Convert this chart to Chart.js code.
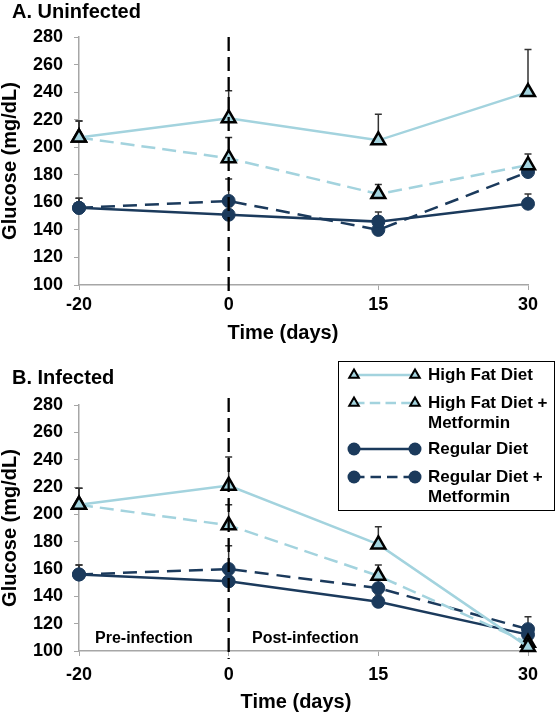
<!DOCTYPE html>
<html><head><meta charset="utf-8">
<script src="https://cdn.jsdelivr.net/npm/chart.js@4.4.1/dist/chart.umd.min.js"></script>
<style>
html,body{margin:0;padding:0;background:#fff;}
#wrap{position:relative;width:558px;height:716px;overflow:hidden;font-family:"Liberation Sans",Arial,sans-serif;}
canvas{position:absolute;left:0;}
#cA{top:0}
#cB{top:352px}
.t{position:absolute;font-weight:bold;color:#000;white-space:nowrap;line-height:1;}
#legendBox{position:absolute;left:338px;top:361px;width:217px;height:150px;border:1.5px solid #000;background:#fff;box-sizing:border-box;}
.lt{position:absolute;left:428px;width:128px;font-weight:bold;font-size:17px;line-height:20px;color:#000;}
#legSvg{position:absolute;left:0;top:0;}
</style></head>
<body><div id="wrap">
<canvas id="cA" width="558" height="352"></canvas>
<canvas id="cB" width="558" height="364"></canvas>
<div id="legendBox"></div>
<svg id="legSvg" width="558" height="716"></svg>
</div>
<script>
// ---- data ----
const categories = ['-20', '0', '15', '30'];
const seriesNames = ['High Fat Diet', 'High Fat Diet + Metformin', 'Regular Diet', 'Regular Diet + Metformin'];
const panelTitles = ['A. Uninfected', 'B. Infected'];
const xAxisTitle = 'Time (days)';
const yAxisTitle = 'Glucose (mg/dL)';
const phaseLabels = ['Pre-infection', 'Post-infection'];
const markerDay = '0';
const yMin = 100, yMax = 280, yStep = 20;

const hfdA      = [207, 221, 205, 240];
const hfdErrA   = [12, 20, 19, 31];
const hfdMetA   = [207, 192, 166, 187];
const hfdMetErrA= [12, 15, 7, 8];
const regA      = [156, 151, 146, 159];
const regErrA   = [7, 6, 7, 7];
const regMetA   = [156, 161, 140, 182];
const regMetErrA= [7, 16, 5, 5];

const hfdB      = [207, 221, 178, 103];
const hfdErrB   = [12, 21, 13, 5];
const hfdMetB   = [207, 192, 155, 106];
const hfdMetErrB= [12, 15, 8, 5];
const regB      = [156, 151, 136, 112];
const regErrB   = [7, 6, 5, 6];
const regMetB   = [156, 160, 146, 116];
const regMetErrB= [7, 17, 6, 9];

// ---- styles ----
const LIGHT = '#a3d3de';
const NAVY = '#1b3a5c';
const styles = [
  {borderColor: LIGHT, borderDash: [], pointStyle: 'triangle', pointRadius: 8, pointBackgroundColor: LIGHT, pointBorderColor: '#000', pointBorderWidth: 2.5},
  {borderColor: LIGHT, borderDash: [14, 7], pointStyle: 'triangle', pointRadius: 8, pointBackgroundColor: LIGHT, pointBorderColor: '#000', pointBorderWidth: 2.5},
  {borderColor: NAVY, borderDash: [], pointStyle: 'circle', pointRadius: 6.5, pointBackgroundColor: NAVY, pointBorderColor: NAVY, pointBorderWidth: 1},
  {borderColor: NAVY, borderDash: [14, 8], pointStyle: 'circle', pointRadius: 6.5, pointBackgroundColor: NAVY, pointBorderColor: NAVY, pointBorderWidth: 1}
];

Chart.defaults.font.family = '"Liberation Sans", Arial, sans-serif';
Chart.defaults.color = '#000';

const errorBars = {
  id: 'errorBars',
  beforeDatasetsDraw(chart) {
    const {ctx, scales: {x, y}} = chart;
    ctx.save();
    ctx.strokeStyle = '#333';
    ctx.lineWidth = 1.5;
    chart.data.datasets.forEach(ds => {
      if (!ds.errors) return;
      ds.data.forEach((v, j) => {
        const e = ds.errors[j];
        if (!e) return;
        const px = x.getPixelForValue(j);
        const y0 = y.getPixelForValue(v), y1 = y.getPixelForValue(v + e);
        ctx.beginPath();
        ctx.moveTo(px, y0); ctx.lineTo(px, y1);
        ctx.moveTo(px - 3.5, y1); ctx.lineTo(px + 3.5, y1);
        ctx.stroke();
      });
    });
    ctx.restore();
  }
};

const dayLine = {
  id: 'dayLine',
  afterDatasetsDraw(chart, args, opts) {
    const {ctx, chartArea, scales: {x}} = chart;
    const px = x.getPixelForValue(categories.indexOf(markerDay));
    ctx.save();
    ctx.strokeStyle = '#000';
    ctx.lineWidth = 2.3;
    ctx.setLineDash([14, 6]);
    ctx.beginPath();
    ctx.moveTo(px, chartArea.top - (opts.above || 0));
    ctx.lineTo(px, chartArea.bottom + 8);
    ctx.stroke();
    ctx.restore();
  }
};

function makeChart(id, series, errs, padTop, padBottom, xHeight, xTickPad, lineAbove) {
  const datasets = series.map((d, i) => Object.assign({
    label: seriesNames[i], data: d, errors: errs[i],
    borderWidth: 2.5, tension: 0, fill: false, clip: false, order: i + 1
  }, styles[i]));
  return new Chart(document.getElementById(id), {
    type: 'line',
    data: {labels: categories, datasets},
    options: {
      responsive: false, animation: false, events: [],
      layout: {padding: {left: 0, right: 30, top: padTop, bottom: padBottom}},
      plugins: {legend: {display: false}, tooltip: {enabled: false}, dayLine: {above: lineAbove}},
      scales: {
        x: {
          type: 'category', offset: false,
          grid: {display: true, drawOnChartArea: false, drawTicks: true, tickLength: 5, color: '#a6a6a6', offset: false},
          border: {display: true, color: '#a6a6a6', width: 1.5},
          ticks: {font: {size: 18, weight: 'bold'}, padding: xTickPad, color: '#000', maxRotation: 0},
          title: {display: false},
          afterFit(s) { s.height = xHeight; }
        },
        y: {
          min: yMin, max: yMax,
          grid: {display: true, drawOnChartArea: false, drawTicks: true, tickLength: 5, color: '#a6a6a6'},
          border: {display: true, color: '#a6a6a6', width: 1.5},
          ticks: {stepSize: yStep, font: {size: 18, weight: 'bold'}, padding: 11, color: '#000'},
          title: {display: true, text: yAxisTitle, font: {size: 20, weight: 'bold', lineHeight: 1}, padding: 0, color: '#000'},
          afterFit(s) { s.width = 79; }
        }
      }
    },
    plugins: [errorBars, dayLine]
  });
}

makeChart('cA', [hfdA, hfdMetA, regA, regMetA], [hfdErrA, hfdMetErrA, regErrA, regMetErrA], 37, 0, 67, 4, 0);
makeChart('cB', [hfdB, hfdMetB, regB, regMetB], [hfdErrB, hfdMetErrB, regErrB, regMetErrB], 53, 4, 61, 8, 7);

// ---- text overlays ----
const wrap = document.getElementById('wrap');
function addText(txt, left, cy, size, centered) {
  const d = document.createElement('div');
  d.className = 't';
  d.textContent = txt;
  d.style.left = left + 'px';
  d.style.top = (cy - size / 2) + 'px';
  d.style.fontSize = size + 'px';
  if (centered) d.style.transform = 'translateX(-50%)';
  wrap.appendChild(d);
  return d;
}
addText(panelTitles[0], 12, 11, 20);
addText(panelTitles[1], 12, 377, 20);
addText(xAxisTitle, 283, 332, 20, true);
addText(xAxisTitle, 296, 701, 20, true);
addText(phaseLabels[0], 95, 638, 16);
addText(phaseLabels[1], 252, 638, 16);

// ---- legend ----
const svg = document.getElementById('legSvg');
const NS = 'http://www.w3.org/2000/svg';
const rowY = [375, 403, 449, 477];
seriesNames.forEach((name, i) => {
  const st = styles[i];
  const y = rowY[i];
  const ln = document.createElementNS(NS, 'line');
  ln.setAttribute('x1', 354); ln.setAttribute('x2', 415);
  ln.setAttribute('y1', y); ln.setAttribute('y2', y);
  ln.setAttribute('stroke', st.borderColor); ln.setAttribute('stroke-width', 2.5);
  if (st.borderDash.length) ln.setAttribute('stroke-dasharray', st.borderDash.map(v => v * 0.75).join(' '));
  svg.appendChild(ln);
  [354, 415].forEach(cx => {
    let m;
    if (st.pointStyle === 'triangle') {
      m = document.createElementNS(NS, 'polygon');
      const r = 5.5;
      m.setAttribute('points', `${cx},${y - r} ${cx + r * 0.866},${y + r / 2} ${cx - r * 0.866},${y + r / 2}`);
      m.setAttribute('fill', st.pointBackgroundColor);
      m.setAttribute('stroke', '#000'); m.setAttribute('stroke-width', 2);
    } else {
      m = document.createElementNS(NS, 'circle');
      m.setAttribute('cx', cx); m.setAttribute('cy', y); m.setAttribute('r', 6.5);
      m.setAttribute('fill', st.pointBackgroundColor);
    }
    svg.appendChild(m);
  });
  const t = document.createElement('div');
  t.className = 'lt';
  t.textContent = name;
  t.style.top = (y - 10) + 'px';
  wrap.appendChild(t);
});
</script>
</body></html>
